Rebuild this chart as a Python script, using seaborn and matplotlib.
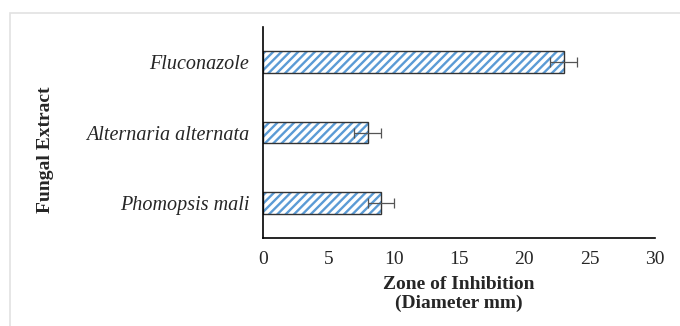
import seaborn as sns
import pandas as pd
import matplotlib.pyplot as plt
from matplotlib.patches import Rectangle

extracts = ['Fluconazole', 'Alternaria alternata', 'Phomopsis mali']
zone_mm = [23, 8, 9]
zone_err = [1, 1, 1]

data = pd.DataFrame({'Extract': extracts, 'Zone': zone_mm})

sns.set_style('white')
plt.rcParams['font.family'] = ['Liberation Serif', 'DejaVu Serif']
plt.rcParams['hatch.linewidth'] = 1.7

fig = plt.figure(figsize=(6.8, 3.26), dpi=100)
fig.patches.append(Rectangle((10 / 680, -0.1), 1.2, (313 / 326) + 0.1, transform=fig.transFigure,
                             fill=False, edgecolor='#e2e2e2', linewidth=1.2))
ax = fig.add_axes([263 / 680, 88 / 326, 392 / 680, 211 / 326])

# hatched fill (hatch takes the edge colour), then a black outline on top
sns.barplot(data=data, y='Extract', x='Zone', orient='h', width=0.31, color='white',
            edgecolor='#5b9bd5', linewidth=0, hatch='////', ax=ax, errorbar=None)
sns.barplot(data=data, y='Extract', x='Zone', orient='h', width=0.31, fill=False,
            edgecolor='#333333', linewidth=1.0, ax=ax, errorbar=None)
ax.errorbar(zone_mm, range(len(extracts)), xerr=zone_err, fmt='none', ecolor='#555555',
            elinewidth=0.9, capsize=3.5, capthick=0.9)

ax.set_xlim(0, 30)
ax.set_ylim(2.5, -0.5)
ax.set_xticks(range(0, 31, 5))
ax.tick_params(axis='x', length=0, labelsize=14, pad=9)
ax.tick_params(axis='y', length=0, labelsize=14.5, pad=10)
for lab in ax.get_yticklabels():
    lab.set_fontstyle('italic')

sns.despine(ax=ax)
for s in ['left', 'bottom']:
    ax.spines[s].set_color('black')
    ax.spines[s].set_linewidth(1.2)

ax.set_xlabel('Zone of Inhibition\n(Diameter mm)', fontsize=14, fontweight='bold', labelpad=6,
              linespacing=1.15)
ax.set_ylabel('')
fig.text(45 / 680, (326 - 150) / 326, 'Fungal Extract', rotation=90, fontsize=14,
         fontweight='bold', ha='center', va='center')

plt.savefig('out.png', dpi=100)
